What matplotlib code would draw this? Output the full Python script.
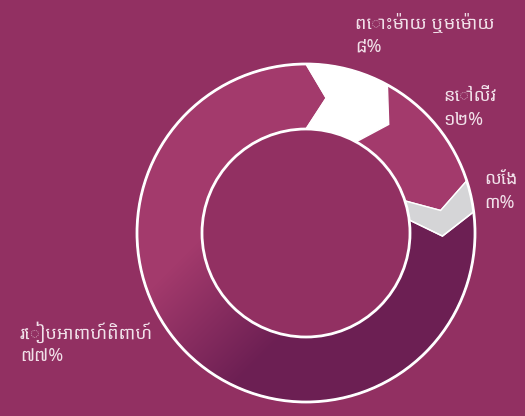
import numpy as np
import matplotlib
matplotlib.use("Agg")
import matplotlib.pyplot as plt
from matplotlib.path import Path
from matplotlib.patches import PathPatch, Circle
from matplotlib.colors import to_rgb

# marital status shares (%), drawn clockwise from the top
labels = ["ពោះម៉ាយ ឬមេម៉ាយ", "នៅលីវ", "លែង", "រៀបអាពាហ៍ពិពាហ៍"]
values = [8, 12, 3, 77]
pct_labels = ["៨%", "១២%", "៣%", "៧៧%"]
colors = ["#ffffff", "#a33a6c", "#d5d5d7", None]  # None -> gradient fill

plt.rcParams["font.family"] = ["Noto Sans Khmer", "Khmer OS", "Noto Sans", "DejaVu Sans"]

BG = "#923062"
W, H = 525, 416
CX, CY = 306, 233
R_OUT, R_IN = 169, 104
TIP = 8.5  # degrees the chevron tip pushes into the next segment

fig = plt.figure(figsize=(W / 100, H / 100), dpi=100)
fig.patch.set_facecolor(BG)
ax = fig.add_axes([0, 0, 1, 1])
ax.set_xlim(0, W)
ax.set_ylim(H, 0)
ax.set_aspect("equal")
ax.axis("off")


def pt(a, r):
    a = np.radians(a)
    return CX + r * np.cos(a), CY - r * np.sin(a)


def segment_path(a0, a1):
    rm = (R_OUT + R_IN) / 2
    outer = [pt(a, R_OUT) for a in np.linspace(a0, a1, 80)]
    inner = [pt(a, R_IN) for a in np.linspace(a1, a0, 80)]
    verts = outer + [pt(a1 - TIP, rm)] + inner + [pt(a0 - TIP, rm)] + [outer[0]]
    codes = [Path.MOVETO] + [Path.LINETO] * (len(verts) - 2) + [Path.CLOSEPOLY]
    return Path(verts, codes)


# gradient used for the large segment: pink upper-left to deep plum lower-right
pink = np.array(to_rgb("#a33a6c"))
plum = np.array(to_rgb("#6c1f53"))
xx, yy = np.meshgrid(np.arange(W) + 0.5, np.arange(H) + 0.5)
t = np.clip((xx + yy - 440) / 180, 0, 1)[..., None]
grad = pink * (1 - t) + plum * t

start = 90.0
total = sum(values)
for val, col in zip(values, colors):
    sweep = 360 * val / total
    a0, a1 = start, start - sweep
    path = segment_path(a0, a1)
    if col is None:
        patch = PathPatch(path, facecolor="none", edgecolor="none")
        ax.add_patch(patch)
        img = ax.imshow(grad, extent=(0, W, H, 0), origin="upper", zorder=1)
        img.set_clip_path(patch)
        ax.add_patch(PathPatch(path, facecolor="none", edgecolor="white", lw=1, zorder=2))
    else:
        ax.add_patch(PathPatch(path, facecolor=col, edgecolor="white", lw=1, zorder=2))
    start = a1

# centre disk and white rings
ax.add_patch(Circle((CX, CY), R_IN, facecolor=BG, edgecolor="white", lw=2, zorder=3))
ax.add_patch(Circle((CX, CY), R_OUT, facecolor="none", edgecolor="white", lw=2, zorder=3))

# labels
TXT = "#f1e0e9"
label_pos = [(355, 23), (443, 96), (484, 179), (20, 332)]
for (x, y), name, pct in zip(label_pos, labels, pct_labels):
    ax.text(x, y, name, color=TXT, fontsize=13, ha="left", va="center", zorder=5)
    ax.text(x, y + 24, pct, color=TXT, fontsize=13, ha="left", va="center", zorder=5)

ax.set_xlim(0, W)
ax.set_ylim(H, 0)
fig.savefig("out.png", dpi=100, facecolor=BG)
